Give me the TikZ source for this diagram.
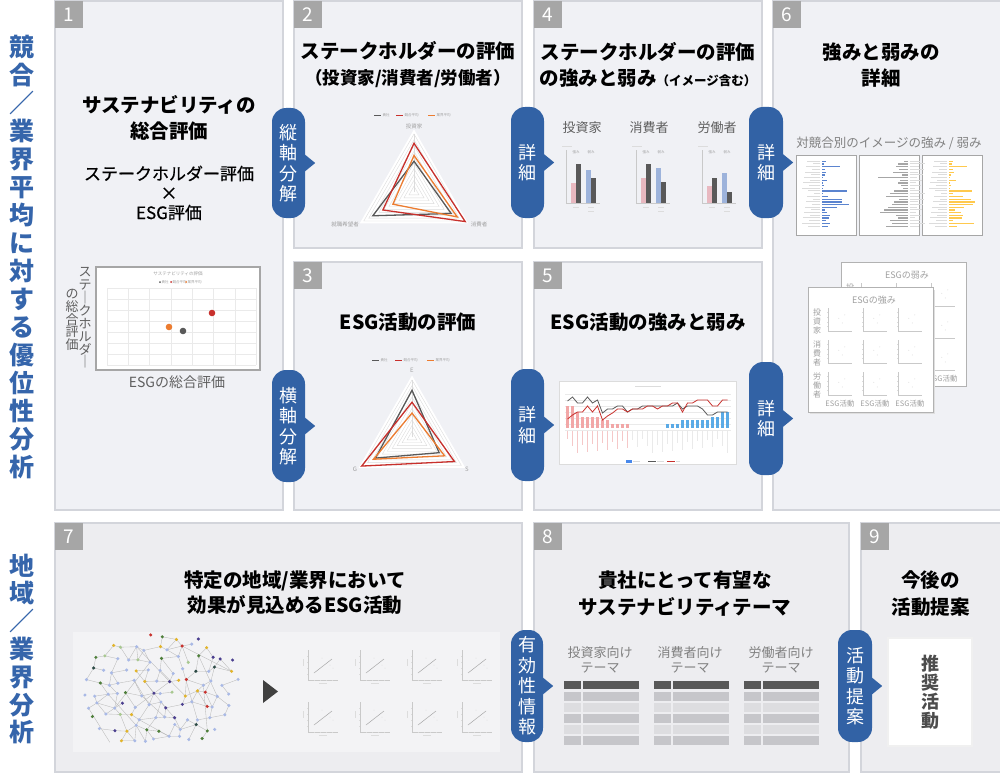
\documentclass[tikz,border=0pt]{standalone}
\usepackage{fontspec}
\setmainfont{Noto Sans CJK JP}
\usetikzlibrary{calc}
\definecolor{panelA}{HTML}{F0F1F5}
\definecolor{panelB}{HTML}{EDEDF0}
\definecolor{panelline}{HTML}{D3D5DB}
\definecolor{tabgray}{HTML}{A6A6A6}
\definecolor{tabblue}{HTML}{3262A5}
\definecolor{labelblue}{HTML}{3565AB}
\definecolor{cgray}{HTML}{595959}
\definecolor{cred}{HTML}{C8302C}
\definecolor{corange}{HTML}{EC7C30}
\definecolor{cpink}{HTML}{E8B8C0}
\definecolor{cblue}{HTML}{9DB3DB}
\definecolor{gridgray}{HTML}{DCDCDC}
\definecolor{gridlight}{HTML}{EAEAEA}
\definecolor{txtgray}{HTML}{5F5F5F}
\definecolor{ltxt}{HTML}{A0A0A0}
\definecolor{bpink}{HTML}{F2A7A7}
\definecolor{lpink}{HTML}{F5C8C8}
\definecolor{bsky}{HTML}{5AAAE6}
\definecolor{tyellow}{HTML}{FFC94D}
\definecolor{tblue}{HTML}{5B84CF}
\definecolor{imgbg}{HTML}{F3F3F5}
\definecolor{rowmid}{HTML}{C6C6CA}
\definecolor{rowlight}{HTML}{DDDDE0}
\definecolor{rowhead}{HTML}{595959}
\definecolor{nb}{HTML}{A9B9E6}
\definecolor{np}{HTML}{4B3F8F}
\definecolor{ng}{HTML}{4E7F3A}
\definecolor{ny}{HTML}{E2B42A}
\definecolor{nr}{HTML}{C8322E}
\definecolor{nd}{HTML}{2C4A45}
\definecolor{nl}{HTML}{A8C890}
\colorlet{net0}{nb}\colorlet{net1}{nb}\colorlet{net2}{nb}\colorlet{net3}{nb}
\colorlet{net4}{nb}\colorlet{net5}{nb}\colorlet{net6}{nb}\colorlet{net7}{nb}
\colorlet{net8}{nb}\colorlet{net9}{nb}\colorlet{net10}{nb}\colorlet{net11}{np}
\colorlet{net12}{np}\colorlet{net13}{ng}\colorlet{net14}{ng}\colorlet{net15}{ny}
\colorlet{net16}{ny}\colorlet{net17}{nr}\colorlet{net18}{nd}\colorlet{net19}{nl}
% radar triangle: style, cx, cy, R, top, right, left
\newcommand{\rtri}[7]{\draw[#1] ({#2},{#3-#4*#5}) -- ({#2+#4*#6*0.866},{#3+#4*#6*0.5}) -- ({#2-#4*#7*0.866},{#3+#4*#7*0.5}) -- cycle;}
\newcommand{\radargrid}[3]{%
  \fill[white] ({#1},{#2-#3*1.08}) -- ({#1+#3*1.08*0.866},{#2+#3*1.08*0.5}) -- ({#1-#3*1.08*0.866},{#2+#3*1.08*0.5}) -- cycle;
  \foreach \k in {1,...,10}{\rtri{gridgray, line width=0.4pt}{#1}{#2}{#3}{\k/10}{\k/10}{\k/10}}
  \draw[gridgray, line width=0.4pt] ({#1},{#2}) -- ({#1},{#2-#3});
}
% small axes: x, y(top), w, h
\newcommand{\miniaxes}[4]{%
  \draw[gridgray!80!gray, line width=0.5pt] ({#1},{#2}) -- ({#1},{#2+#4}) -- ({#1+#3},{#2+#4});
  \foreach \t in {0.2,0.4,0.6,0.8}{\draw[gridgray, line width=0.3pt] ({#1-1},{#2+#4*\t}) -- ({#1},{#2+#4*\t});}
  \fill[gridgray] ({#1+#3*0.45},{#2+#4*0.45}) circle (0.5pt) ({#1+#3*0.7},{#2+#4*0.3}) circle (0.5pt) ({#1+#3*0.6},{#2+#4*0.65}) circle (0.5pt);
}
\newcommand{\cardcontent}[3]{%
  \node[font=\fontsize{9}{9}\selectfont, text=ltxt] (#3t) at ({874+#1},{300+#2}) {ESGの#3};
  \foreach \cx in {828,863,898}{\foreach \ry in {308,340,372}{\miniaxes{\cx+#1}{\ry+#2}{24}{23}}}
  \node[font=\fontsize{8}{9}\selectfont, text=ltxt, align=center] (#3r1) at ({817+#1},{321+#2}) {投\\資\\家};
  \node[font=\fontsize{8}{9}\selectfont, text=ltxt, align=center] (#3r2) at ({817+#1},{353+#2}) {消\\費\\者};
  \node[font=\fontsize{8}{9}\selectfont, text=ltxt, align=center] (#3r3) at ({817+#1},{385+#2}) {労\\働\\者};
  \node[font=\fontsize{7.5}{8}\selectfont, text=ltxt] (#3c1) at ({840+#1},{404+#2}) {ESG活動};
  \node[font=\fontsize{7.5}{8}\selectfont, text=ltxt] (#3c2) at ({875+#1},{404+#2}) {ESG活動};
  \node[font=\fontsize{7.5}{8}\selectfont, text=ltxt] (#3c3) at ({910+#1},{404+#2}) {ESG活動};
}
\newcommand{\scatthumb}[2]{%
  \draw[gridgray!80!gray, line width=0.4pt] ({#1},{#2}) -- ({#1},{#2+30}) -- ({#1+30},{#2+30});
  \foreach \t in {0.2,0.4,0.6,0.8}{\draw[gridgray, line width=0.3pt] ({#1-1},{#2+30*\t}) -- ({#1},{#2+30*\t}) ({#1+30*\t},{#2+30}) -- ({#1+30*\t},{#2+31});}
  \draw[gray!70, line width=0.5pt] ({#1+6},{#2+23}) -- ({#1+24},{#2+9});
  \fill[gridgray] ({#1+22},{#2+15}) circle (0.5pt) ({#1+25},{#2+18}) circle (0.5pt) ({#1+14},{#2+8}) circle (0.5pt);
  \draw[gridgray, line width=0.6pt] ({#1-5},{#2+9}) -- ({#1-5},{#2+16}) ({#1+11},{#2+33}) -- ({#1+19},{#2+33});
}
\begin{document}
\begin{tikzpicture}[x=1pt,y=-1pt,
  panel/.style={draw=panelline, line width=1.2pt, fill=panelA},
  panelb/.style={draw=panelline, line width=1.2pt, fill=panelB},
  numtab/.style={fill=tabgray, text=white, minimum width=28pt, minimum height=27pt, inner sep=0pt, font=\fontsize{19}{19}\selectfont, anchor=north west},
  title/.style={font=\fontsize{19.5}{26}\selectfont\bfseries, align=center, text=black},
  tabbox/.style={fill=tabblue, rounded corners=14pt, text=white, minimum width=33pt, inner sep=0pt, align=center, font=\fontsize{18}{20.5}\selectfont},
  bluelab/.style={text=labelblue, font=\fontsize{25}{28}\selectfont\bfseries, align=center},
  glabel/.style={text=txtgray, font=\fontsize{13}{14.5}\selectfont, align=center},
  tiny/.style={text=ltxt, font=\fontsize{3.5}{4}\selectfont, inner sep=0pt},
  edge/.style={draw=gray!55, line width=0.35pt},
  ser/.style={line width=1.3pt},
]
\useasboundingbox (0,0) rectangle (1000,773);
\fill[white] (0,0) rectangle (1000,773);

% ---------- left labels
\node[bluelab] (lab1) at (22,257) {競\\合\\／\\業\\界\\平\\均\\に\\対\\す\\る\\優\\位\\性\\分\\析};
\node[bluelab, font=\fontsize{25}{27.8}\selectfont\bfseries] (lab2) at (22,649) {地\\域\\／\\業\\界\\分\\析};

% ---------- panels
\draw[panel] (55,1) rectangle (283,510);
\draw[panel] (294,1) rectangle (522,248);
\draw[panel] (294,262) rectangle (522,510);
\draw[panel] (534,1) rectangle (762,248);
\draw[panel] (534,262) rectangle (762,510);
\draw[panel] (773,1) rectangle (1000.5,510);
\draw[panelb] (55,523) rectangle (522,772);
\draw[panelb] (534,523) rectangle (849,772);
\draw[panelb] (861,523) rectangle (1000.5,772);

\node[numtab] (n1) at (55,1) {1};
\node[numtab] (n2) at (294,1) {2};
\node[numtab] (n3) at (294,262) {3};
\node[numtab] (n4) at (534,1) {4};
\node[numtab] (n5) at (534,262) {5};
\node[numtab] (n6) at (773,1) {6};
\node[numtab] (n7) at (55,523) {7};
\node[numtab] (n8) at (534,523) {8};
\node[numtab] (n9) at (861,523) {9};

% ---------- panel 1
\node[title] (t1) at (169,117.5) {サステナビリティの\\総合評価};
\node[font=\fontsize{17}{19.5}\selectfont\addfontfeatures{FakeBold=0.6}, align=center] (t1b) at (169,193) {ステークホルダー評価\\×\\ESG評価};
\draw[draw=gray!70, line width=1.5pt, fill=white] (96,267) rectangle (260,370);
\node[tiny, font=\fontsize{4.5}{5}\selectfont] (sct) at (178,274) {サステナビリティの評価};
\fill[cgray] (160,282) circle (1pt); \node[tiny, anchor=west] (sl1) at (161.5,282) {貴社};
\fill[cred] (171,282) circle (1pt); \node[tiny, anchor=west] (sl2) at (172.5,282) {競合平均};
\fill[corange] (186,282) circle (1pt); \node[tiny, anchor=west] (sl3) at (187.5,282) {業界平均};
\foreach \k in {0,...,7}{\draw[gridlight, line width=0.4pt] (107,{288+\k*11}) -- (256,{288+\k*11});}
\foreach \k in {0,...,7}{\draw[gridlight, line width=0.4pt] ({107+\k*21.3},288) -- ({107+\k*21.3},365);}
\fill[corange] (169,327) circle (3.3pt);
\fill[cgray] (183,331) circle (3.3pt);
\fill[cred] (212,313) circle (3.3pt);
\node[glabel, font=\fontsize{13}{12.9}\selectfont] (yl1) at (85,318) {ス\\テ\\｜\\ク\\ホ\\ル\\ダ\\｜};
\node[glabel, font=\fontsize{13}{12.6}\selectfont] (yl2) at (72,320) {の\\総\\合\\評\\価};
\node[glabel, font=\fontsize{14}{14}\selectfont] (xl) at (177,382) {ESGの総合評価};

% ---------- panel 2
\node[title] (t2) at (408,65) {ステークホルダーの評価\\{\fontsize{17.5}{26}\selectfont（投資家/消費者/労働者）}};
\radargrid{414}{192}{58}
\rtri{cgray, ser}{414}{192}{58}{0.53}{0.74}{0.82}
\rtri{cred, ser}{414}{192}{58}{0.84}{1.02}{0.62}
\rtri{corange, ser}{414}{192}{58}{0.63}{0.86}{0.42}
\draw[cgray, line width=0.8pt] (374,115) -- (381,115); \node[tiny, anchor=west] (l2a) at (382.5,115) {貴社};
\draw[cred, line width=0.8pt] (396,115) -- (403,115); \node[tiny, anchor=west] (l2b) at (404.5,115) {競合平均};
\draw[corange, line width=0.8pt] (428,115) -- (435,115); \node[tiny, anchor=west] (l2c) at (436.5,115) {業界平均};
\node[tiny, font=\fontsize{5.5}{6}\selectfont] (a2a) at (414,126) {投資家};
\node[tiny, font=\fontsize{5.5}{6}\selectfont] (a2b) at (479,224) {消費者};
\node[tiny, font=\fontsize{5.5}{6}\selectfont] (a2c) at (345,224) {就職希望者};

% ---------- panel 3
\node[title] (t3) at (408,322) {ESG活動の評価};
\radargrid{412}{437}{57}
\rtri{cgray, ser}{412}{437}{57}{0.82}{0.55}{0.74}
\rtri{cred, ser}{412}{437}{57}{0.61}{0.86}{1.02}
\rtri{corange, ser}{412}{437}{57}{0.42}{0.66}{0.78}
\draw[cgray, line width=0.8pt] (372,360) -- (379,360); \node[tiny, anchor=west] (l3a) at (380.5,360) {貴社};
\draw[cred, line width=0.8pt] (395,360) -- (402,360); \node[tiny, anchor=west] (l3b) at (403.5,360) {競合平均};
\draw[corange, line width=0.8pt] (427,360) -- (434,360); \node[tiny, anchor=west] (l3c) at (435.5,360) {業界平均};
\node[tiny, font=\fontsize{6}{6}\selectfont] (a3a) at (412,370) {E};
\node[tiny, font=\fontsize{6}{6}\selectfont] (a3b) at (467,469) {S};
\node[tiny, font=\fontsize{6}{6}\selectfont] (a3c) at (355,469) {G};

% ---------- panel 4
\node[title] (t4) at (648,65) {ステークホルダーの評価\\の強みと弱み{\fontsize{12.5}{26}\selectfont（イメージ含む）}};
\node[glabel] (g4a) at (582,128) {投資家};
\node[glabel] (g4b) at (649,128) {消費者};
\node[glabel] (g4c) at (717,128) {労働者};
\foreach \ax/\p/\da/\b/\db in {566/183/164/170/178, 636/178/164/168/182, 702/186/178/173/192}{
  \draw[gridgray!80!gray, line width=0.5pt] (\ax,150) -- (\ax,203) -- (\ax+34,203);
  \fill[cpink] (\ax+5,\p) rectangle (\ax+10,203);
  \fill[cgray] (\ax+10,\da) rectangle (\ax+15,203);
  \fill[cblue] (\ax+20,\b) rectangle (\ax+25,203);
  \fill[cgray] (\ax+25,\db) rectangle (\ax+30,203);
  \draw[gridgray, line width=0.7pt] (\ax-4,146) -- (\ax+6,146);
  \node[tiny] at (\ax+10,152) {強み};
  \node[tiny] at (\ax+25,152) {弱み};
  \draw[gridgray, line width=0.7pt] (\ax+7,207) -- (\ax+13,207) (\ax+22,207) -- (\ax+28,207) (\ax+22,211) -- (\ax+28,211);
}

% ---------- panel 5
\node[title] (t5) at (648,322) {ESG活動の強みと弱み};
\draw[draw=gridgray, fill=white, line width=0.5pt] (559,381) rectangle (736,464);
\draw[gridgray, line width=0.8pt] (635,386) -- (661,386);
\foreach \yy in {394,400,...,430}{\draw[gridlight, line width=0.3pt] (565,\yy) -- (731,\yy);}
\foreach \h [count=\i from 0] in {22,22,16,11,11,11,11,8,8,4,4,4,4}{
  \fill[bpink] ({566.3+5*\i},{428-\h}) rectangle ({568.8+5*\i},428);
}
\foreach \h [count=\i from 20] in {4,4,4,8,8,8,8,8,8,11,11,16,16}{
  \fill[bsky] ({566.3+5*\i},{428-\h}) rectangle ({568.8+5*\i},428);
}
\foreach \i in {0,...,32}{
  \pgfmathsetmacro{\ll}{8+mod(\i*7,15)}
  \ifnum\i<13 \def\lc{lpink}\else\def\lc{gridlight}\fi
  \draw[\lc, line width=0.5pt] ({567.5+5*\i},431) -- ({567.5+5*\i},{431+\ll});
}
\foreach \v [count=\i from 0] in {401,397,403,403,397,403,400,413,409,409,406,406,412,409,409,406,406,406,406,406,406,406,403,409,406,406,406,409,415,415,412,412,412}{
  \coordinate (dk\i) at ({567.5+5*\i},\v);
}
\foreach \v [count=\i from 0] in {419,415,412,412,406,412,406,420,416,413,409,409,412,409,409,409,406,406,409,406,406,403,403,412,403,403,400,400,400,406,406,400,400}{
  \coordinate (rd\i) at ({567.5+5*\i},\v);
}
\draw[cgray, line width=0.8pt] (dk0) \foreach \i in {1,...,32}{ -- (dk\i)};
\draw[cred, line width=0.8pt] (rd0) \foreach \i in {1,...,32}{ -- (rd\i)};
\fill[bsky!80!blue] (626,459.5) rectangle (632,462.5); \draw[gridgray, line width=0.6pt] (633,461) -- (640,461);
\draw[cgray, line width=0.8pt] (648,461) -- (656,461); \draw[gridgray, line width=0.6pt] (657,461) -- (664,461);
\draw[cred, line width=0.8pt] (667,461) -- (675,461); \draw[gridgray, line width=0.6pt] (676,461) -- (680,461);

% ---------- panel 6
\node[title] (t6) at (881,65) {強みと弱みの\\詳細};
\node[glabel, font=\fontsize{12.5}{14}\selectfont, text=gray] (cap6) at (889,143) {対競合別のイメージの強み / 弱み};
\foreach \bx in {796,859,922}{\draw[draw=gray!70, fill=white, line width=0.8pt] (\bx,155) rectangle (\bx+60,235);}
\foreach \v [count=\i] in {4,2,18,3,4,3,1,5,1,2,1,25,1,6,20,20,27,15,3,5,8,7,4,8,6}{
  \pgfmathsetmacro{\ll}{6+mod(\i*7,13)}
  \fill[tblue] (822,{158+\i*2.7}) rectangle ({822+\v},{158+\i*2.7+1.3});
  \fill[gridgray] ({820-\ll},{158+\i*2.7}) rectangle (820,{158+\i*2.7+0.8});
}
\foreach \v [count=\i] in {4,10,12,9,15,6,30,8,10,7,5,14,18,22,9,14,16,20,24,28,12,10,18,16,22}{
  \pgfmathsetmacro{\ll}{5+mod(\i*5,11)}
  \fill[gray!70] ({908-\v},{158+\i*2.7}) rectangle (908,{158+\i*2.7+1.3});
  \fill[gridgray] (910,{158+\i*2.7}) rectangle ({910+\ll},{158+\i*2.7+0.8});
}
\foreach \v [count=\i] in {4,3,18,4,5,2,1,7,1,2,1,23,4,14,22,26,24,15,6,12,14,13,4,25,8}{
  \pgfmathsetmacro{\ll}{6+mod(\i*7,13)}
  \fill[tyellow] (949,{158+\i*2.7}) rectangle ({949+\v},{158+\i*2.7+1.3});
  \fill[gridgray] ({947-\ll},{158+\i*2.7}) rectangle (947,{158+\i*2.7+0.8});
}
% stacked cards
\draw[draw=gray!60, fill=white, line width=1pt] (841,262) rectangle (966,386);
\cardcontent{33}{-25}{弱み}
\fill[gray!25] (810,290) rectangle (935,414);
\draw[draw=gray!60, fill=white, line width=1pt] (808,287) rectangle (933,412);
\cardcontent{0}{0}{強み}

% ---------- panel 7
\node[title, font=\fontsize{19.5}{25}\selectfont\bfseries] (t7) at (295,592.5) {特定の地域/業界において\\効果が見込めるESG活動};
\fill[imgbg] (73,632) rectangle (500,752);
\pgfmathsetseed{12}
\foreach \r in {0,...,10}{
 \foreach \c in {0,...,14}{
  \pgfmathsetmacro{\xx}{84+\c*11.5+(4.5-\r)*4.5+3.5*rand}
  \pgfmathsetmacro{\yy}{636+\r*11.5+3.5*rand}
  \pgfmathtruncatemacro{\ins}{and(and(\r<10,\c<14),((\xx-163)/84)^2+((\yy-691)/58)^2<1)}
  \expandafter\xdef\csname ins-\r-\c\endcsname{\ins}
  \coordinate (g-\r-\c) at (\xx,\yy);
 }
}
\foreach \r in {0,...,9}{
 \foreach \c in {0,...,13}{
  \pgfmathtruncatemacro{\cn}{\c+1}
  \pgfmathtruncatemacro{\rn}{\r+1}
  \ifnum\csname ins-\r-\c\endcsname=1
    \ifnum\csname ins-\r-\cn\endcsname=1
      \pgfmathtruncatemacro{\e}{rnd<0.6}
      \ifnum\e=1 \draw[edge] (g-\r-\c) -- (g-\r-\cn); \fi
    \fi
    \ifnum\csname ins-\rn-\c\endcsname=1
      \pgfmathtruncatemacro{\e}{rnd<0.5}
      \ifnum\e=1 \draw[edge] (g-\r-\c) -- (g-\rn-\c); \fi
    \fi
    \ifnum\csname ins-\rn-\cn\endcsname=1
      \pgfmathtruncatemacro{\e}{rnd<0.35}
      \ifnum\e=1 \draw[edge] (g-\r-\c) -- (g-\rn-\cn); \fi
    \fi
  \fi
 }
}
\foreach \a/\b in {1-3/4-7, 2-5/6-3, 3-8/7-11, 5-2/8-6, 4-10/8-12, 2-9/5-12, 6-1/9-4, 7-6/9-9, 3-4/6-8, 1-7/3-12, 4-4/6-6, 5-5/7-8, 3-6/5-9, 4-7/6-5}{
  \draw[edge] (g-\a) -- (g-\b);
}
\foreach \r in {0,...,9}{
 \foreach \c in {0,...,13}{
  \ifnum\csname ins-\r-\c\endcsname=1
   \pgfmathtruncatemacro{\k}{int(rnd*19.99)}
   \fill[net\k] (g-\r-\c) circle (1.7pt);
  \fi
 }
}
\fill[black!75] (263,680) -- (278,691.5) -- (263,703) -- cycle;
\foreach \sx in {308,360,412,462}{\foreach \sy in {650,702}{\scatthumb{\sx}{\sy}}}

% ---------- panel 8
\node[title, font=\fontsize{19.5}{27}\selectfont\bfseries] (t8) at (685,593.5) {貴社にとって有望な\\サステナビリティテーマ};
\node[glabel, font=\fontsize{13}{14.5}\selectfont, text=gray] (g8a) at (600,660) {投資家向け\\テーマ};
\node[glabel, font=\fontsize{13}{14.5}\selectfont, text=gray] (g8b) at (690,660) {消費者向け\\テーマ};
\node[glabel, font=\fontsize{13}{14.5}\selectfont, text=gray] (g8c) at (781,660) {労働者向け\\テーマ};
\foreach \tx in {564,654,744}{
  \fill[rowhead] (\tx,681) rectangle (\tx+17,689);
  \fill[rowhead] (\tx+19,681) rectangle (\tx+75,689);
  \foreach \k in {0,...,4}{
    \ifodd\k \def\rc{rowlight}\else\def\rc{rowmid}\fi
    \fill[\rc] (\tx,{692+11*\k}) rectangle (\tx+17,{701+11*\k});
    \fill[\rc] (\tx+19,{692+11*\k}) rectangle (\tx+75,{701+11*\k});
  }
}

% ---------- panel 9
\node[title, font=\fontsize{19.5}{27}\selectfont\bfseries] (t9) at (930.5,593.5) {今後の\\活動提案};
\draw[draw=gray!12, fill=white, line width=2pt] (888,638) rectangle (972,746);
\node[font=\fontsize{18}{19}\selectfont\bfseries, text=black!70, align=center] (rec) at (930,692) {推\\奨\\活\\動};

% ---------- blue tabs
\node[tabbox, minimum height=110pt] (k1) at (288.5,163) {縦\\軸\\分\\解};
\node[tabbox, minimum height=112pt] (k2) at (288.5,426) {横\\軸\\分\\解};
\node[tabbox, minimum height=111pt] (k3) at (527.5,162.5) {詳\\細};
\node[tabbox, minimum height=112pt] (k4) at (527.5,425) {詳\\細};
\node[tabbox, minimum height=111pt, minimum width=34pt] (k5) at (766,162.5) {詳\\細};
\node[tabbox, minimum height=113pt, minimum width=34pt] (k6) at (766,418.5) {詳\\細};
\node[tabbox, minimum height=112pt, minimum width=32pt] (k7) at (527,686) {有\\効\\性\\情\\報};
\node[tabbox, minimum height=112pt, minimum width=34pt] (k8) at (855,686) {活\\動\\提\\案};
\foreach \k in {k1,k2,k3,k4,k5,k6,k7,k8}{
  \fill[tabblue] ($(\k.east)+(-1,-9)$) -- ($(\k.east)+(10,0)$) -- ($(\k.east)+(-1,9)$) -- cycle;
}
\end{tikzpicture}
\end{document}
